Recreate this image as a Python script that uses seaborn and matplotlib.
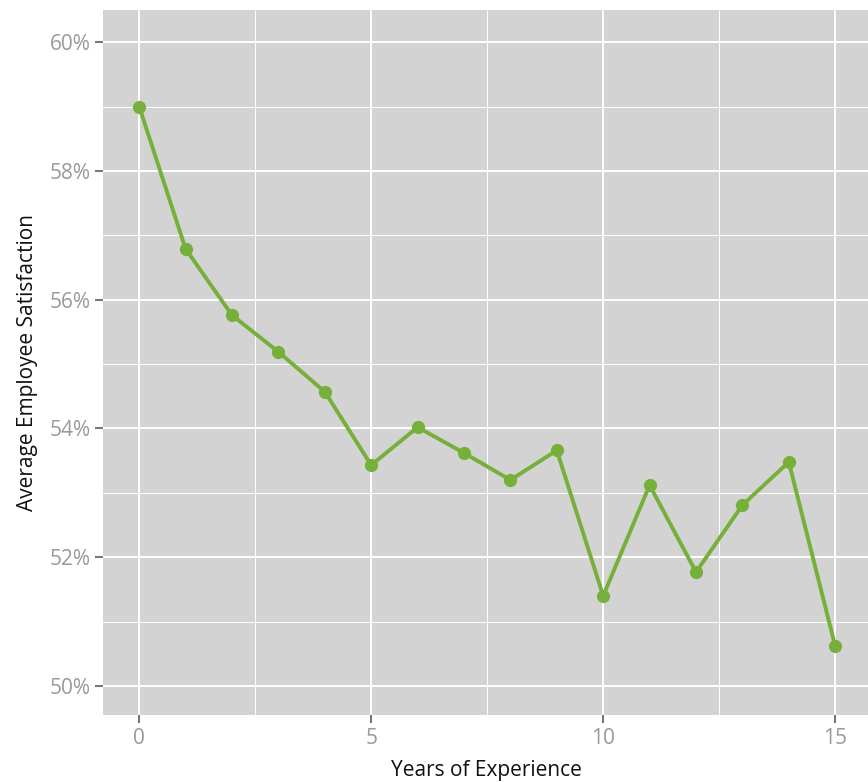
import pandas as pd
import matplotlib.pyplot as plt
import seaborn as sns
from matplotlib.ticker import MultipleLocator, FuncFormatter

# Данные
years = list(range(16))
satisfaction = [59.0, 56.79, 55.76, 55.19, 54.57, 53.43, 54.02, 53.62,
                53.20, 53.66, 51.40, 53.12, 51.77, 52.81, 53.48, 50.62]

df = pd.DataFrame({'years': years, 'satisfaction': satisfaction})

sns.set_theme(style='darkgrid', rc={
    'axes.facecolor': '#D3D3D3',
    'grid.color': 'white',
})
plt.rcParams['font.family'] = ['Open Sans', 'DejaVu Sans']
plt.rcParams['xtick.bottom'] = True
plt.rcParams['ytick.left'] = True

fig = plt.figure(figsize=(8.68, 7.82), dpi=100)
ax = fig.add_axes([103 / 868, 67 / 782, 767 / 868, 705 / 782])

sns.lineplot(data=df, x='years', y='satisfaction', ax=ax, color='#76B03A',
             linewidth=2.8, marker='o', markersize=9.5, markeredgewidth=0)

ax.set_xlim(-0.78, 15.75)
ax.set_ylim(49.55, 60.5)

ax.xaxis.set_major_locator(MultipleLocator(5))
ax.xaxis.set_minor_locator(MultipleLocator(2.5))
ax.yaxis.set_major_locator(MultipleLocator(2))
ax.yaxis.set_minor_locator(MultipleLocator(1))
ax.yaxis.set_major_formatter(FuncFormatter(lambda v, p: f'{int(round(v))}%'))

ax.grid(which='major', color='white', linewidth=1.4)
ax.grid(which='minor', color='white', linewidth=0.7)

ax.tick_params(axis='both', which='minor', length=0)
ax.tick_params(axis='both', which='major', direction='out', bottom=True, left=True,
               length=6, width=1.5, color='#777777', labelcolor='#999999',
               labelsize=15, pad=3)
for s in ax.spines.values():
    s.set_visible(False)

ax.set_xlabel('Years of Experience', fontsize=15, color='#111111', labelpad=8)
ax.set_ylabel('Average Employee Satisfaction', fontsize=15, color='#111111', labelpad=8)

plt.savefig('out.png', dpi=100)
plt.close()
